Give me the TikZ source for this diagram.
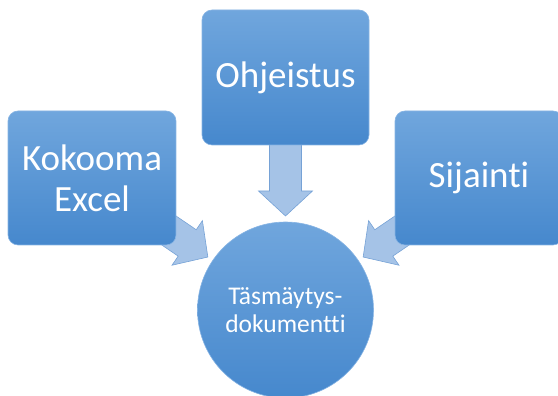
\documentclass[tikz,border=0pt]{standalone}
\usepackage{fontspec}
\setmainfont{Carlito}[Ligatures=NoCommon]
\usetikzlibrary{calc,backgrounds}

\definecolor{boxtop}{RGB}{112,166,221}
\definecolor{boxbot}{RGB}{70,136,205}
\definecolor{boxline}{RGB}{135,180,228}
\definecolor{arrowfill}{RGB}{165,195,231}
\definecolor{arrowline}{RGB}{118,162,214}

\tikzstyle{box}=[rectangle,rounded corners=10pt,top color=boxtop,bottom color=boxbot,draw=boxline,line width=0.6pt,text=white,align=center,inner sep=0pt]
\tikzstyle{hub}=[circle,top color=boxtop,bottom color=boxbot,draw=boxline,line width=0.6pt,text=white,align=center,inner sep=0pt,minimum size=176pt]
\tikzstyle{feedarrow}=[fill=arrowfill,draw=arrowline,line width=0.6pt,line join=miter]

% block arrow from node #1 towards node #2
\newcommand{\feed}[2]{%
  \coordinate (#1tip) at ($(#2.center)!94pt!(#1.center)$);
  \coordinate (#1hd) at ($(#1tip)!25pt!(#1.center)$);
  \coordinate (#1tl) at ($(#1tip)!100pt!(#1.center)$);
  \draw[feedarrow] (#1tip) -- ($(#1hd)!27pt!90:(#1.center)$) -- ($(#1hd)!16pt!90:(#1.center)$)
    -- ($(#1tl)!16pt!90:(#1.center)$) -- ($(#1tl)!16pt!-90:(#1.center)$)
    -- ($(#1hd)!16pt!-90:(#1.center)$) -- ($(#1hd)!27pt!-90:(#1.center)$) -- cycle;
}

\begin{document}
\begin{tikzpicture}[x=1pt,y=1pt]
  \path[use as bounding box,clip] (0,0) rectangle (558,396);
  % Source boxes
  \node[box,minimum width=168pt,minimum height=134pt,font=\fontsize{37}{41}\selectfont] (kokooma) at (92,218) {Kokooma\\Excel};
  \node[box,minimum width=167pt,minimum height=135pt,font=\fontsize{37}{41}\selectfont] (ohjeistus) at (285.5,318.5) {Ohjeistus};
  \node[box,minimum width=168pt,minimum height=134pt,font=\fontsize{37}{41}\selectfont] (sijainti) at (479,218) {Sijainti};
  % Target
  \node[hub,font=\fontsize{25.5}{28}\selectfont] (tasmaytys) at (285.5,86) {Täsmäytys-\\dokumentti};
  % Arrows
  \begin{scope}[on background layer]
    \feed{kokooma}{tasmaytys}
    \feed{ohjeistus}{tasmaytys}
    \feed{sijainti}{tasmaytys}
  \end{scope}
\end{tikzpicture}
\end{document}
